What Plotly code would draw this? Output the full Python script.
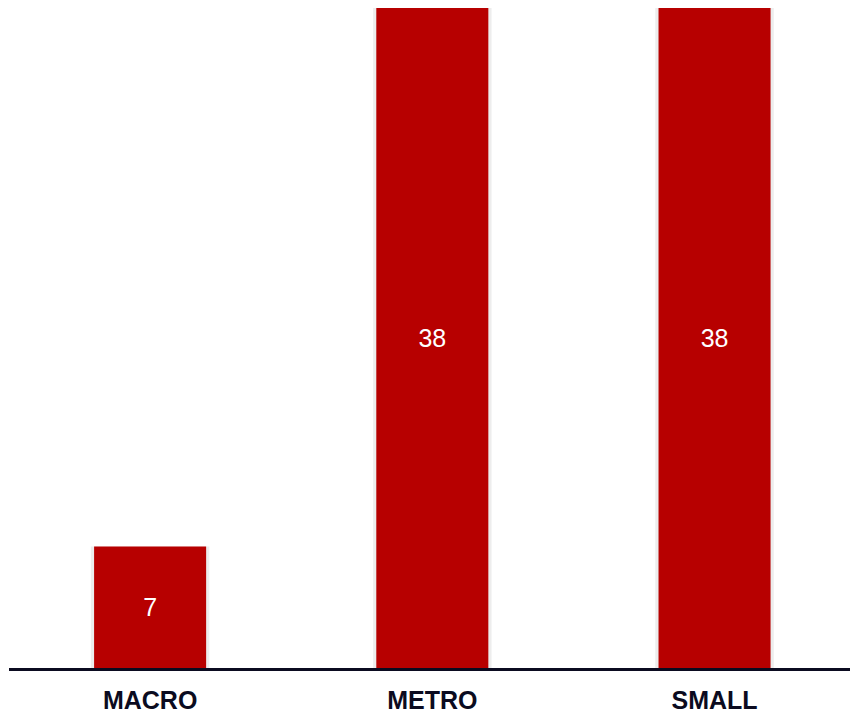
import plotly.graph_objects as go

categories = ["MACRO", "METRO", "SMALL"]
values = [7, 38, 38]
bar_color = "#b70000"

fig = go.Figure()
# faint shadow behind bars
fig.add_trace(go.Bar(
    x=categories, y=values, width=0.42,
    marker=dict(color="rgba(0,0,0,0.07)", line=dict(width=0)),
    hoverinfo="skip", showlegend=False,
))
fig.add_trace(go.Bar(
    x=categories, y=values, width=0.397,
    marker=dict(color=bar_color, line=dict(width=0)),
    text=[str(v) for v in values], textposition="inside",
    insidetextanchor="middle",
    textfont=dict(family="Liberation Sans, Arial, sans-serif", size=25, color="white"),
    showlegend=False,
))
fig.update_layout(
    width=850, height=715,
    margin=dict(l=9, r=0, t=8, b=47),
    barmode="overlay",
    plot_bgcolor="white", paper_bgcolor="white",
    uniformtext=dict(minsize=8, mode="show"),
    xaxis=dict(
        range=[-0.5, 2.48], showgrid=False, showline=True, linewidth=3,
        linecolor="#0b0b20", ticks="", ticklabelstandoff=8,
        tickfont=dict(family="Liberation Sans, Arial, sans-serif", size=25, color="#0b0b20"),
        tickprefix="<b>", ticksuffix="</b>",
    ),
    yaxis=dict(range=[0, 38], visible=False, showgrid=False, zeroline=False),
)
fig.write_html("out.html")
